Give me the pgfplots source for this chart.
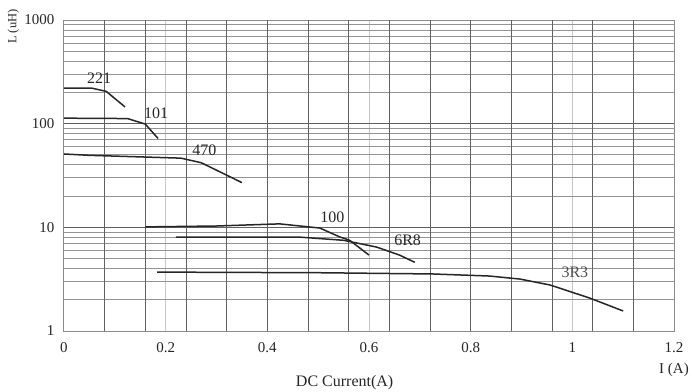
\documentclass[border=0pt]{standalone}
\usepackage{pgfplots}
\pgfplotsset{compat=1.18}
\usepackage{fontspec}
\setmainfont{Liberation Serif}
\begin{document}
\begin{tikzpicture}
\path[use as bounding box] (-64bp,-61bp) rectangle (629bp,331bp);
\begin{axis}[
  scale only axis, width=610bp, height=311bp,
  at={(0,0)}, anchor=south west,
  xmin=0, xmax=1.2, ymode=log, ymin=1, ymax=1000,
  xtick={0,0.2,0.4,0.6,0.8,1,1.2},
  xticklabels={0,0.2,0.4,0.6,0.8,1,1.2},
  ytick={1,10,100,1000},
  yticklabels={1,10,100,1000},
  /pgf/number format/assume math mode=true,
  xmajorgrids, ymajorgrids, yminorgrids,
  major x grid style={draw=black!22, line width=1bp},
  major y grid style={draw=black!62, line width=1bp},
  minor y grid style={draw=black!42, line width=1bp},
  extra x ticks={0.08,0.16,0.24,0.32,0.40,0.48,0.56,0.64,0.72,0.80,0.88,0.96,1.04,1.12},
  extra x tick labels={},
  extra x tick style={grid=major, major x grid style={draw=black!62, line width=1bp}},
  major tick length=0pt, minor tick length=0pt,
  axis line style={draw=black!45, line width=1bp},
  tick label style={font=\fontsize{15bp}{15bp}\selectfont, text=black!85},
  xticklabel style={yshift=-8bp},
  yticklabel style={xshift=-6bp},
  xlabel={DC Current(A)},
  xlabel style={at={(axis description cs:0.46,-0.165)}, anchor=center, font=\fontsize{16bp}{16bp}\selectfont, text=black!85},
  ylabel={L (uH)},
  ylabel style={at={(axis description cs:-0.083,1.045)}, anchor=east, rotate=0, font=\fontsize{12.5bp}{12.5bp}\selectfont, text=black!85},
  clip=false,
]
% 221
\addplot[black!85, line width=1.5bp] coordinates {(0,220) (0.055,220) (0.083,205) (0.12,145)};
% 101
\addplot[black!85, line width=1.5bp] coordinates {(0,113) (0.125,112) (0.16,99) (0.185,72)};
% 470
\addplot[black!85, line width=1.5bp] coordinates {(0,51) (0.05,49.5) (0.23,46.5) (0.27,42) (0.35,27)};
% 100
\addplot[black!85, line width=1.5bp] coordinates {(0.16,10.1) (0.3,10.3) (0.424,10.8) (0.503,9.85) (0.542,8.1) (0.562,7.5) (0.60,5.4)};
% 6R8
\addplot[black!85, line width=1.5bp] coordinates {(0.22,8.05) (0.463,8.05) (0.55,7.5) (0.615,6.45) (0.66,5.4) (0.69,4.6)};
% 3R3
\addplot[black!85, line width=1.5bp] coordinates {(0.183,3.7) (0.5,3.65) (0.725,3.55) (0.837,3.39) (0.897,3.17) (0.956,2.78) (1.034,2.08) (1.10,1.56)};
\node[font=\fontsize{16bp}{16bp}\selectfont, text=black!85] at (axis cs:0.069,275) {221};
\node[font=\fontsize{16bp}{16bp}\selectfont, text=black!85] at (axis cs:0.181,126) {101};
\node[font=\fontsize{16bp}{16bp}\selectfont, text=black!85] at (axis cs:0.276,55.6) {470};
\node[font=\fontsize{16bp}{16bp}\selectfont, text=black!85] at (axis cs:0.528,12.6) {100};
\node[font=\fontsize{16bp}{16bp}\selectfont, text=black!85] at (axis cs:0.676,7.5) {6R8};
\node[font=\fontsize{16bp}{16bp}\selectfont, text=black!70] at (axis cs:1.005,3.7) {3R3};
\node[font=\fontsize{15bp}{15bp}\selectfont, text=black!85] at (axis description cs:1.0,-0.125) {I (A)};
\end{axis}
\end{tikzpicture}
\end{document}
